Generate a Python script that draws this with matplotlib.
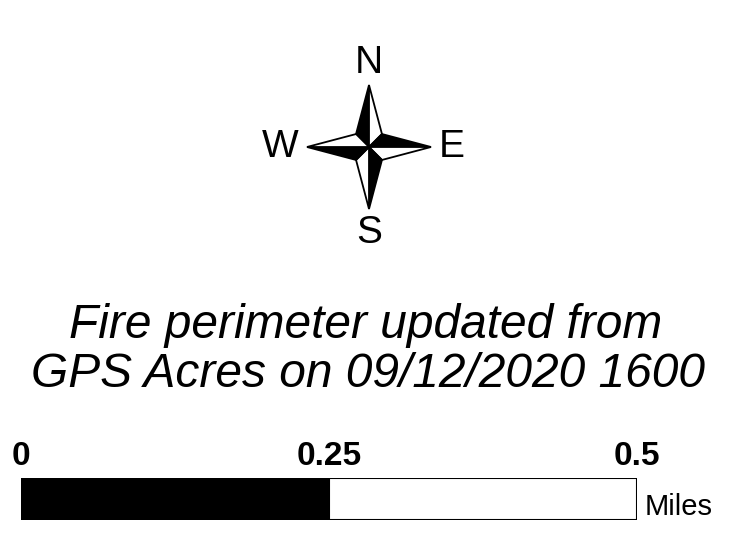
import numpy as np
import matplotlib
matplotlib.use('Agg')
import matplotlib.pyplot as plt
from matplotlib.patches import Polygon

# ==== Data ====
scale_ticks = [0, 0.25, 0.5]
scale_labels = ['0', '0.25', '0.5']
seg_start = [0, 0.25]
seg_width = [0.25, 0.25]
seg_color = ['black', 'white']
scale_unit = 'Miles'

note_lines = ['Fire perimeter updated from', 'GPS Acres on 09/12/2020 1600']
directions = ['N', 'E', 'S', 'W']

# ==== Style ====
plt.rcParams['font.family'] = ['Liberation Sans', 'DejaVu Sans']
W, H = 740, 555

fig = plt.figure(figsize=(W / 100, H / 100), dpi=100)
fig.patch.set_facecolor('white')

# pixel-space canvas for compass + note
ax = fig.add_axes([0, 0, 1, 1])
ax.set_xlim(0, W)
ax.set_ylim(H, 0)
ax.axis('off')

# ---- compass rose ----
cx, cy = 369, 147
arm = 62
inner = 13
angles = {'N': -90, 'E': 0, 'S': 90, 'W': 180}   # screen coords, y down
label_off = {'N': 84, 'E': 83, 'S': 86, 'W': 89}
for d in directions:
    a = np.deg2rad(angles[d])
    tip = (cx + arm * np.cos(a), cy + arm * np.sin(a))
    # inner points on either side of the arm (at 45 deg)
    left = (cx + inner * 1.41 * np.cos(a - np.pi / 4), cy + inner * 1.41 * np.sin(a - np.pi / 4))
    right = (cx + inner * 1.41 * np.cos(a + np.pi / 4), cy + inner * 1.41 * np.sin(a + np.pi / 4))
    ax.add_patch(Polygon([tip, left, (cx, cy)], closed=True, facecolor='black',
                         edgecolor='black', linewidth=1.3, joinstyle='miter'))
    ax.add_patch(Polygon([tip, right, (cx, cy)], closed=True, facecolor='white',
                         edgecolor='black', linewidth=1.3, joinstyle='miter'))
    lo = label_off[d]
    ax.text(cx + lo * np.cos(a), cy + lo * np.sin(a), d, fontsize=28,
            ha='center', va='center', color='black')

# ---- note text ----
ax.text(366, 338, note_lines[0], fontsize=34.5, style='italic',
        ha='center', va='baseline')
ax.text(368, 387, note_lines[1], fontsize=34.5, style='italic',
        ha='center', va='baseline')

# ---- scale bar ----
sx0, sx1, sy0, sy1 = 21, 637, 478, 520
sax = fig.add_axes([sx0 / W, 1 - sy1 / H, (sx1 - sx0) / W, (sy1 - sy0) / H])
sax.barh(0, seg_width, left=seg_start, height=1, color=seg_color,
         edgecolor='black', linewidth=1.5)
sax.set_xlim(0, 0.5)
sax.set_ylim(-0.5, 0.5)
sax.set_yticks([])
sax.xaxis.tick_top()
sax.set_xticks(scale_ticks)
sax.set_xticklabels(scale_labels, fontsize=24, fontweight='bold')
sax.tick_params(axis='x', length=0, pad=4)
for s in sax.spines.values():
    s.set_visible(False)
sax.text(1.012, -0.02, scale_unit, transform=sax.transAxes, fontsize=21,
         ha='left', va='bottom')

fig.savefig('out.png', dpi=100, facecolor='white')
